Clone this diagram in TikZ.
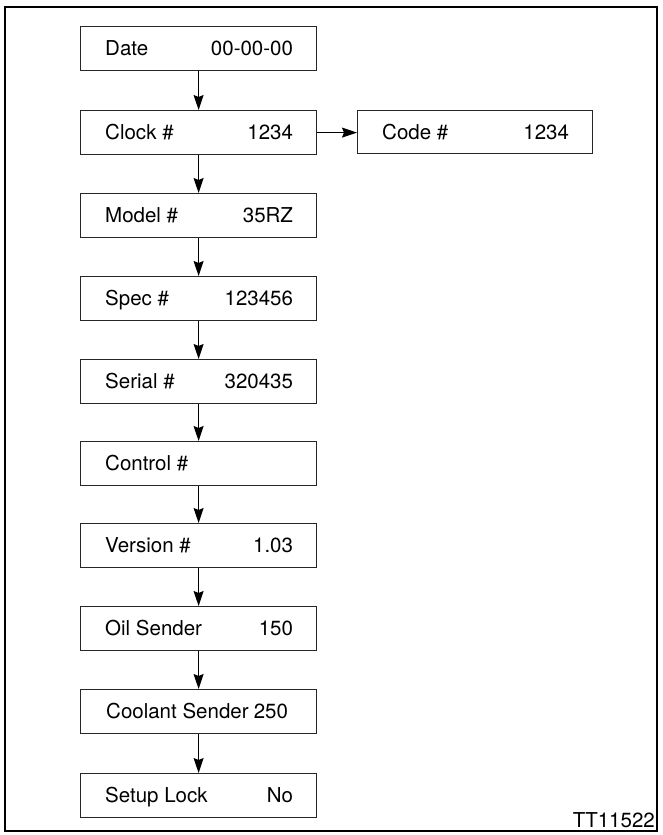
\documentclass[tikz,border=0pt]{standalone}
\usepackage{fontspec}
\setmainfont{TeX Gyre Heros}
\usetikzlibrary{arrows.meta}
\begin{document}
\begin{tikzpicture}[x=1pt,y=-1pt,
  box/.style={draw=black!85,line width=1.2pt,minimum width=236pt,minimum height=44pt,anchor=north west,inner sep=0pt},
  lbl/.style={font=\fontsize{20.5}{22}\selectfont,anchor=base west,inner sep=0pt},
  val/.style={font=\fontsize{20.5}{22}\selectfont,anchor=base east,inner sep=0pt},
  conn/.style={line width=1.1pt,-{Stealth[length=15pt,width=10pt,inset=2pt]}}]
\useasboundingbox (0,0) rectangle (662,835);
\draw[line width=2pt] (5,7) rectangle (657,831);
% boxes
\node[box] (b1) at (80,26) {};
\node[box] (b2) at (80,110) {};
\node[box] (b3) at (80,193) {};
\node[box] (b4) at (80,276) {};
\node[box] (b5) at (80,359) {};
\node[box] (b6) at (80,441) {};
\node[box] (b7) at (80,523) {};
\node[box] (b8) at (80,606) {};
\node[box] (b9) at (80,689) {};
\node[box] (b10) at (80,773) {};
\node[box,minimum width=235pt,minimum height=43pt] (c) at (357,110) {};
% texts
\foreach \n/\l/\v in {b1/Date/00-00-00,b2/Clock \#/1234,b3/Model \#/35RZ,b4/Spec \#/123456,b5/Serial \#/320435,b6/Control \#/,b7/Version \#/1.03,b8/Oil Sender/150,b10/Setup Lock/No,c/Code \#/1234}{
  \node[lbl] (\n l) at ([xshift=25pt,yshift=-7pt]\n.west) {\l};
  \node[val] (\n v) at ([xshift=-24pt,yshift=-7pt]\n.east) {\v};
}
\node[lbl] (b9l) at ([xshift=26pt,yshift=-7pt]b9.west) {Coolant Sender};
\node[val] (b9v) at ([xshift=-29pt,yshift=-7pt]b9.east) {250};
% connectors
\foreach \a/\b in {b1/b2,b2/b3,b3/b4,b4/b5,b5/b6,b6/b7,b7/b8,b8/b9,b9/b10}{
  \draw[conn] (\a.south) -- (\b.north);
}
\draw[conn] (b2.east) -- (c.west |- b2.east);
\node[font=\fontsize{20.5}{22}\selectfont,anchor=base east,inner sep=0pt] (tt) at (655,827) {TT11522};
\end{tikzpicture}
\end{document}
